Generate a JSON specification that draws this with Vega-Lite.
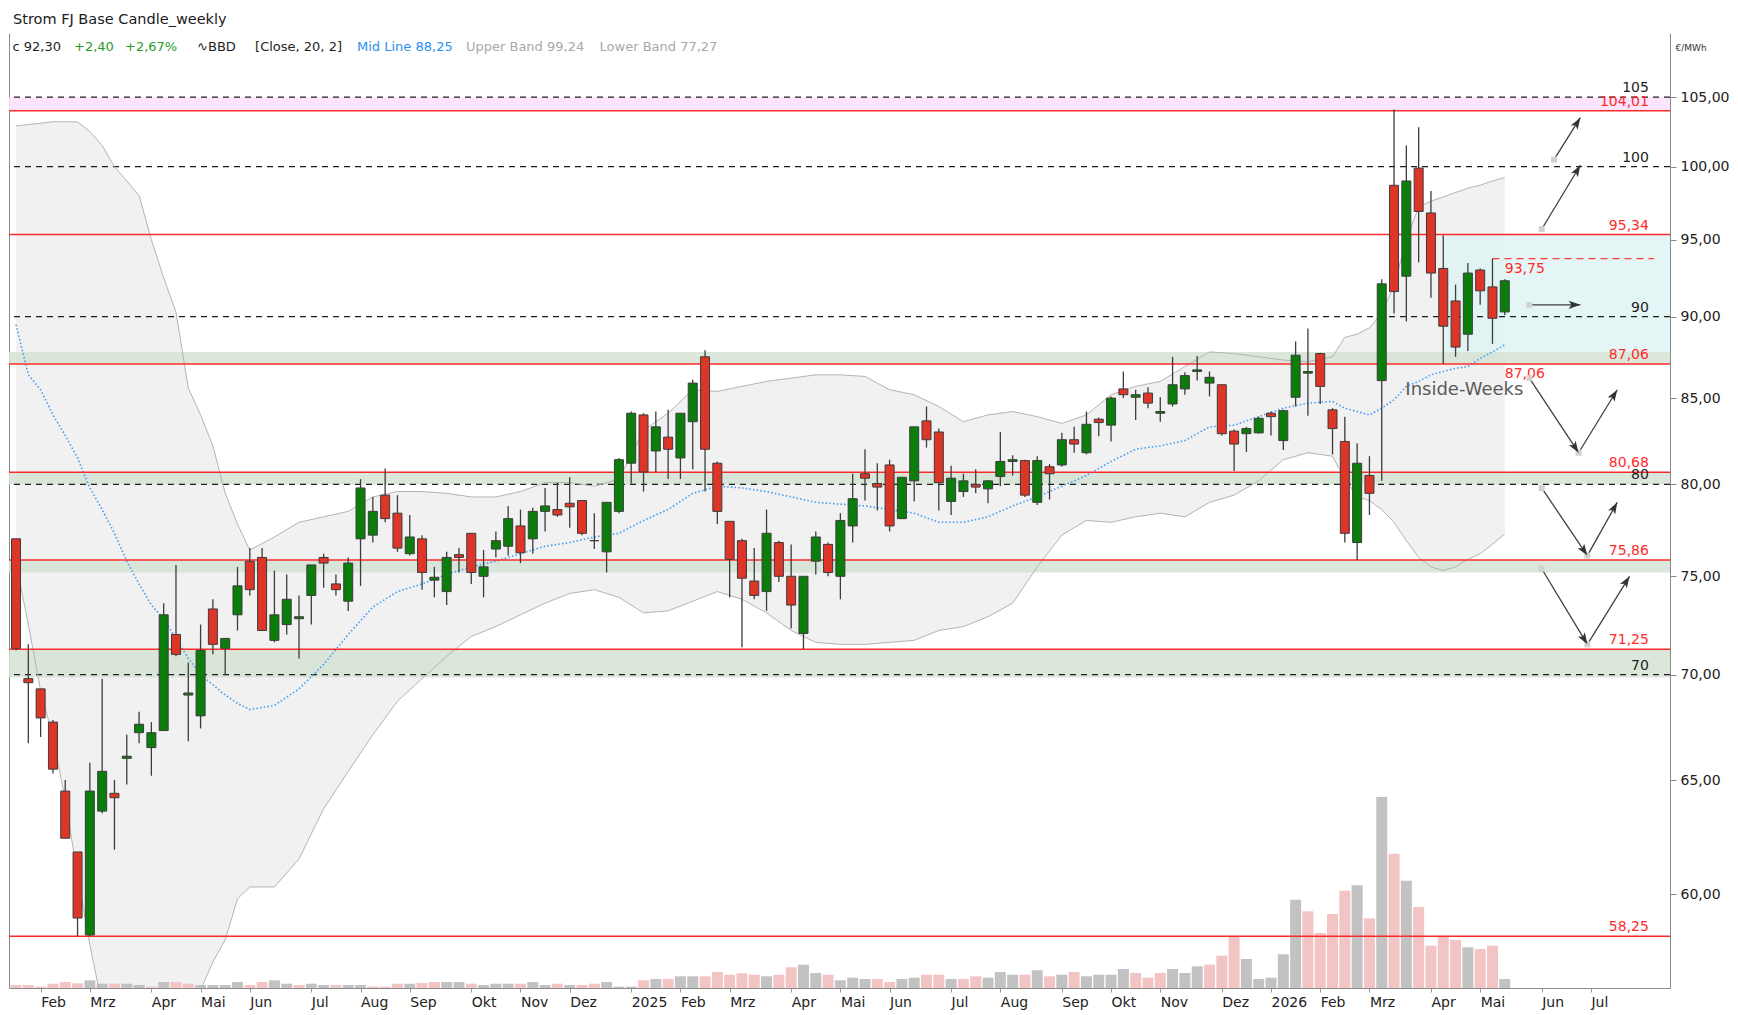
{
  "$schema": "https://vega.github.io/schema/vega-lite/v6.json",
  "width": 1661,
  "height": 955,
  "autosize": {"type": "none"},
  "padding": {"left": 9, "top": 33, "right": 68, "bottom": 27},
  "background": "#ffffff",
  "title": {"text": "Strom FJ Base Candle_weekly", "anchor": "start", "frame": "group", "offset": 6, "fontSize": 14.5, "fontWeight": "normal", "color": "#1a1a1a", "dx": 4},
  "config": {
    "font": "DejaVu Sans",
    "view": {"stroke": null},
    "locale": {
      "number": {"decimal": ",", "thousands": ".", "grouping": [3], "currency": ["", " €"]},
      "time": {
        "dateTime": "%A, der %e. %B %Y, %X", "date": "%d.%m.%Y", "time": "%H:%M:%S", "periods": ["AM", "PM"],
        "days": ["Sonntag", "Montag", "Dienstag", "Mittwoch", "Donnerstag", "Freitag", "Samstag"],
        "shortDays": ["So", "Mo", "Di", "Mi", "Do", "Fr", "Sa"],
        "months": ["Januar", "Februar", "März", "April", "Mai", "Juni", "Juli", "August", "September", "Oktober", "November", "Dezember"],
        "shortMonths": ["Jan", "Feb", "Mrz", "Apr", "Mai", "Jun", "Jul", "Aug", "Sep", "Okt", "Nov", "Dez"]
      }
    }
  },
  "datasets": {
    "candles": [
      {"d":"2024-01-15","o":77.0,"h":77.0,"l":71.2,"c":71.3,"v":30,"vd":"down"},
      {"d":"2024-01-22","o":69.8,"h":71.5,"l":66.7,"c":69.6,"v":30,"vd":"down"},
      {"d":"2024-01-29","o":69.3,"h":69.3,"l":67.0,"c":67.9,"v":13,"vd":"down"},
      {"d":"2024-02-05","o":67.7,"h":67.8,"l":65.3,"c":65.5,"v":43,"vd":"down"},
      {"d":"2024-02-12","o":64.5,"h":65.0,"l":62.4,"c":62.4,"v":60,"vd":"down"},
      {"d":"2024-02-19","o":61.8,"h":61.8,"l":58.25,"c":59.0,"v":47,"vd":"down"},
      {"d":"2024-02-26","o":58.3,"h":65.8,"l":58.25,"c":64.5,"v":77,"vd":"up"},
      {"d":"2024-03-04","o":63.6,"h":69.8,"l":63.5,"c":65.4,"v":43,"vd":"up"},
      {"d":"2024-03-11","o":64.4,"h":65.0,"l":61.9,"c":64.2,"v":43,"vd":"down"},
      {"d":"2024-03-18","o":66.0,"h":67.1,"l":64.8,"c":66.1,"v":43,"vd":"up"},
      {"d":"2024-03-25","o":67.2,"h":68.2,"l":66.7,"c":67.6,"v":30,"vd":"up"},
      {"d":"2024-04-01","o":66.5,"h":67.7,"l":65.2,"c":67.2,"v":13,"vd":"down"},
      {"d":"2024-04-08","o":67.3,"h":73.6,"l":67.3,"c":73.0,"v":60,"vd":"up"},
      {"d":"2024-04-15","o":72.0,"h":75.6,"l":70.9,"c":71.0,"v":60,"vd":"down"},
      {"d":"2024-04-22","o":69.0,"h":70.6,"l":66.8,"c":69.1,"v":43,"vd":"down"},
      {"d":"2024-04-29","o":68.0,"h":72.5,"l":67.4,"c":71.2,"v":30,"vd":"up"},
      {"d":"2024-05-06","o":73.3,"h":73.8,"l":71.0,"c":71.5,"v":30,"vd":"up"},
      {"d":"2024-05-13","o":71.3,"h":71.8,"l":70.0,"c":71.8,"v":30,"vd":"up"},
      {"d":"2024-05-20","o":73.0,"h":75.5,"l":72.2,"c":74.5,"v":60,"vd":"up"},
      {"d":"2024-05-27","o":75.8,"h":76.5,"l":74.0,"c":74.3,"v":30,"vd":"down"},
      {"d":"2024-06-03","o":76.0,"h":76.5,"l":72.2,"c":72.2,"v":60,"vd":"down"},
      {"d":"2024-06-10","o":71.7,"h":75.3,"l":71.6,"c":73.0,"v":77,"vd":"up"},
      {"d":"2024-06-17","o":72.5,"h":75.1,"l":72.0,"c":73.8,"v":43,"vd":"up"},
      {"d":"2024-06-24","o":72.8,"h":74.0,"l":70.8,"c":72.9,"v":30,"vd":"down"},
      {"d":"2024-07-01","o":74.0,"h":75.6,"l":72.5,"c":75.6,"v":43,"vd":"up"},
      {"d":"2024-07-08","o":76.0,"h":76.2,"l":74.4,"c":75.7,"v":30,"vd":"up"},
      {"d":"2024-07-15","o":74.6,"h":75.1,"l":74.0,"c":74.3,"v":30,"vd":"down"},
      {"d":"2024-07-22","o":73.7,"h":76.0,"l":73.2,"c":75.7,"v":30,"vd":"up"},
      {"d":"2024-07-29","o":77.0,"h":80.3,"l":74.5,"c":79.8,"v":30,"vd":"up"},
      {"d":"2024-08-05","o":77.2,"h":79.3,"l":76.8,"c":78.5,"v":13,"vd":"down"},
      {"d":"2024-08-12","o":79.4,"h":80.9,"l":77.9,"c":78.1,"v":13,"vd":"down"},
      {"d":"2024-08-19","o":78.4,"h":79.4,"l":76.3,"c":76.5,"v":43,"vd":"down"},
      {"d":"2024-08-26","o":76.2,"h":78.3,"l":76.1,"c":77.1,"v":43,"vd":"up"},
      {"d":"2024-09-02","o":77.0,"h":77.2,"l":74.3,"c":75.2,"v":50,"vd":"down"},
      {"d":"2024-09-09","o":74.8,"h":75.5,"l":73.9,"c":74.95,"v":60,"vd":"down"},
      {"d":"2024-09-16","o":74.2,"h":76.3,"l":73.5,"c":76.0,"v":60,"vd":"up"},
      {"d":"2024-09-23","o":76.15,"h":76.5,"l":75.2,"c":76.0,"v":60,"vd":"up"},
      {"d":"2024-09-30","o":77.3,"h":77.3,"l":74.6,"c":75.2,"v":43,"vd":"down"},
      {"d":"2024-10-07","o":75.0,"h":76.4,"l":73.9,"c":75.5,"v":30,"vd":"up"},
      {"d":"2024-10-14","o":76.45,"h":77.4,"l":76.0,"c":76.9,"v":43,"vd":"up"},
      {"d":"2024-10-21","o":76.6,"h":78.8,"l":76.1,"c":78.1,"v":43,"vd":"up"},
      {"d":"2024-10-28","o":77.7,"h":78.6,"l":75.7,"c":76.25,"v":43,"vd":"down"},
      {"d":"2024-11-04","o":77.0,"h":78.7,"l":76.2,"c":78.5,"v":60,"vd":"up"},
      {"d":"2024-11-11","o":78.5,"h":79.8,"l":77.4,"c":78.8,"v":30,"vd":"up"},
      {"d":"2024-11-18","o":78.6,"h":80.1,"l":78.2,"c":78.3,"v":43,"vd":"down"},
      {"d":"2024-11-25","o":78.95,"h":80.4,"l":77.6,"c":78.75,"v":30,"vd":"up"},
      {"d":"2024-12-02","o":79.1,"h":79.1,"l":77.2,"c":77.3,"v":30,"vd":"down"},
      {"d":"2024-12-09","o":76.9,"h":78.4,"l":76.45,"c":76.9,"v":43,"vd":"down"},
      {"d":"2024-12-16","o":76.3,"h":79.0,"l":75.2,"c":79.0,"v":60,"vd":"up"},
      {"d":"2024-12-23","o":78.5,"h":81.5,"l":78.4,"c":81.4,"v":13,"vd":"up"},
      {"d":"2024-12-30","o":81.2,"h":84.2,"l":80.05,"c":84.1,"v":13,"vd":"up"},
      {"d":"2025-01-06","o":84.0,"h":84.1,"l":79.6,"c":80.7,"v":77,"vd":"down"},
      {"d":"2025-01-13","o":81.9,"h":84.2,"l":80.7,"c":83.3,"v":90,"vd":"up"},
      {"d":"2025-01-20","o":82.7,"h":84.3,"l":80.3,"c":82.0,"v":90,"vd":"down"},
      {"d":"2025-01-27","o":81.5,"h":84.1,"l":80.3,"c":84.1,"v":117,"vd":"up"},
      {"d":"2025-02-03","o":83.6,"h":86.1,"l":80.85,"c":85.9,"v":117,"vd":"up"},
      {"d":"2025-02-10","o":87.5,"h":87.9,"l":79.6,"c":82.0,"v":117,"vd":"down"},
      {"d":"2025-02-17","o":81.2,"h":81.3,"l":77.8,"c":78.5,"v":160,"vd":"down"},
      {"d":"2025-02-24","o":77.95,"h":77.95,"l":73.9,"c":75.9,"v":133,"vd":"down"},
      {"d":"2025-03-03","o":76.9,"h":77.0,"l":71.35,"c":74.9,"v":147,"vd":"down"},
      {"d":"2025-03-10","o":74.75,"h":76.5,"l":73.8,"c":74.0,"v":133,"vd":"down"},
      {"d":"2025-03-17","o":74.2,"h":78.6,"l":73.2,"c":77.3,"v":117,"vd":"up"},
      {"d":"2025-03-24","o":76.8,"h":76.9,"l":74.7,"c":75.0,"v":133,"vd":"down"},
      {"d":"2025-03-31","o":75.0,"h":76.7,"l":72.3,"c":73.5,"v":207,"vd":"down"},
      {"d":"2025-04-07","o":72.05,"h":75.0,"l":71.25,"c":75.0,"v":233,"vd":"up"},
      {"d":"2025-04-14","o":75.8,"h":77.4,"l":75.1,"c":77.1,"v":150,"vd":"up"},
      {"d":"2025-04-21","o":76.7,"h":76.8,"l":75.0,"c":75.2,"v":133,"vd":"down"},
      {"d":"2025-04-28","o":75.0,"h":78.4,"l":73.8,"c":78.0,"v":77,"vd":"up"},
      {"d":"2025-05-05","o":77.7,"h":80.6,"l":76.8,"c":79.2,"v":103,"vd":"up"},
      {"d":"2025-05-12","o":80.6,"h":82.0,"l":79.1,"c":80.35,"v":90,"vd":"up"},
      {"d":"2025-05-19","o":80.05,"h":81.2,"l":78.55,"c":79.85,"v":90,"vd":"down"},
      {"d":"2025-05-26","o":81.1,"h":81.4,"l":77.4,"c":77.7,"v":60,"vd":"down"},
      {"d":"2025-06-02","o":78.1,"h":80.4,"l":78.1,"c":80.4,"v":90,"vd":"up"},
      {"d":"2025-06-09","o":80.2,"h":83.3,"l":79.05,"c":83.3,"v":103,"vd":"up"},
      {"d":"2025-06-16","o":83.65,"h":84.5,"l":82.1,"c":82.55,"v":133,"vd":"down"},
      {"d":"2025-06-23","o":83.0,"h":83.2,"l":78.55,"c":80.1,"v":133,"vd":"down"},
      {"d":"2025-06-30","o":79.05,"h":81.05,"l":78.3,"c":80.35,"v":90,"vd":"up"},
      {"d":"2025-07-07","o":79.6,"h":80.6,"l":79.3,"c":80.2,"v":90,"vd":"down"},
      {"d":"2025-07-14","o":80.0,"h":80.85,"l":79.5,"c":79.85,"v":117,"vd":"down"},
      {"d":"2025-07-21","o":79.75,"h":80.25,"l":78.95,"c":80.2,"v":103,"vd":"up"},
      {"d":"2025-07-28","o":80.45,"h":83.0,"l":79.9,"c":81.3,"v":160,"vd":"up"},
      {"d":"2025-08-04","o":81.3,"h":81.65,"l":80.5,"c":81.4,"v":133,"vd":"up"},
      {"d":"2025-08-11","o":81.35,"h":81.4,"l":79.3,"c":79.4,"v":133,"vd":"down"},
      {"d":"2025-08-18","o":79.0,"h":81.6,"l":78.85,"c":81.35,"v":177,"vd":"up"},
      {"d":"2025-08-25","o":81.0,"h":81.15,"l":79.15,"c":80.6,"v":117,"vd":"down"},
      {"d":"2025-09-01","o":81.1,"h":82.95,"l":81.0,"c":82.55,"v":133,"vd":"up"},
      {"d":"2025-09-08","o":82.55,"h":83.3,"l":81.8,"c":82.3,"v":160,"vd":"down"},
      {"d":"2025-09-15","o":81.8,"h":84.2,"l":81.7,"c":83.45,"v":117,"vd":"up"},
      {"d":"2025-09-22","o":83.75,"h":83.85,"l":82.75,"c":83.55,"v":133,"vd":"up"},
      {"d":"2025-09-29","o":83.4,"h":85.1,"l":82.45,"c":85.0,"v":133,"vd":"up"},
      {"d":"2025-10-06","o":85.55,"h":86.6,"l":85.0,"c":85.2,"v":190,"vd":"up"},
      {"d":"2025-10-13","o":85.05,"h":85.5,"l":83.7,"c":85.2,"v":150,"vd":"down"},
      {"d":"2025-10-20","o":85.3,"h":85.65,"l":84.4,"c":84.7,"v":103,"vd":"down"},
      {"d":"2025-10-27","o":84.1,"h":85.05,"l":83.6,"c":84.2,"v":150,"vd":"down"},
      {"d":"2025-11-03","o":84.65,"h":87.5,"l":84.5,"c":85.8,"v":190,"vd":"up"},
      {"d":"2025-11-10","o":85.55,"h":86.55,"l":85.2,"c":86.35,"v":150,"vd":"up"},
      {"d":"2025-11-17","o":86.6,"h":87.55,"l":86.05,"c":86.7,"v":217,"vd":"up"},
      {"d":"2025-11-24","o":85.9,"h":86.6,"l":85.1,"c":86.25,"v":233,"vd":"down"},
      {"d":"2025-12-01","o":85.8,"h":85.8,"l":82.8,"c":82.9,"v":323,"vd":"down"},
      {"d":"2025-12-08","o":83.05,"h":83.15,"l":80.75,"c":82.3,"v":517,"vd":"down"},
      {"d":"2025-12-15","o":82.9,"h":83.3,"l":81.85,"c":83.2,"v":290,"vd":"up"},
      {"d":"2025-12-22","o":82.95,"h":83.9,"l":82.9,"c":83.8,"v":90,"vd":"up"},
      {"d":"2025-12-29","o":84.1,"h":84.2,"l":82.8,"c":83.9,"v":103,"vd":"up"},
      {"d":"2026-01-05","o":82.5,"h":84.3,"l":81.95,"c":84.25,"v":337,"vd":"up"},
      {"d":"2026-01-12","o":85.05,"h":88.45,"l":84.5,"c":87.6,"v":883,"vd":"up"},
      {"d":"2026-01-19","o":86.5,"h":89.25,"l":83.95,"c":86.6,"v":767,"vd":"down"},
      {"d":"2026-01-26","o":87.7,"h":87.75,"l":84.65,"c":85.7,"v":550,"vd":"down"},
      {"d":"2026-02-02","o":84.3,"h":84.4,"l":81.7,"c":83.2,"v":740,"vd":"down"},
      {"d":"2026-02-09","o":82.45,"h":83.9,"l":76.8,"c":77.3,"v":973,"vd":"down"},
      {"d":"2026-02-16","o":76.8,"h":82.35,"l":75.85,"c":81.2,"v":1027,"vd":"up"},
      {"d":"2026-02-23","o":80.5,"h":81.6,"l":78.3,"c":79.5,"v":697,"vd":"down"},
      {"d":"2026-03-02","o":86.05,"h":92.4,"l":80.2,"c":92.1,"v":1910,"vd":"up"},
      {"d":"2026-03-09","o":98.7,"h":104.1,"l":90.2,"c":91.6,"v":1343,"vd":"down"},
      {"d":"2026-03-16","o":92.6,"h":101.5,"l":89.7,"c":99.0,"v":1073,"vd":"up"},
      {"d":"2026-03-23","o":99.9,"h":102.8,"l":93.5,"c":96.9,"v":810,"vd":"down"},
      {"d":"2026-03-30","o":96.8,"h":98.3,"l":91.2,"c":92.8,"v":423,"vd":"down"},
      {"d":"2026-04-06","o":93.1,"h":95.3,"l":87.06,"c":89.4,"v":517,"vd":"down"},
      {"d":"2026-04-13","o":91.0,"h":92.05,"l":87.5,"c":88.1,"v":480,"vd":"down"},
      {"d":"2026-04-20","o":88.9,"h":93.45,"l":87.85,"c":92.8,"v":407,"vd":"up"},
      {"d":"2026-04-27","o":93.0,"h":93.1,"l":90.75,"c":91.65,"v":390,"vd":"down"},
      {"d":"2026-05-04","o":91.9,"h":93.75,"l":88.3,"c":89.9,"v":423,"vd":"down"},
      {"d":"2026-05-11","o":90.3,"h":92.4,"l":90.1,"c":92.3,"v":90,"vd":"up"}
    ],
    "bands": [
      {"d":"2024-01-15","up":102.9,"mid":89.5,"lo":75.7},
      {"d":"2024-01-22","up":103.0,"mid":86.4,"lo":72.5},
      {"d":"2024-01-29","up":103.1,"mid":85.5,"lo":69.2},
      {"d":"2024-02-05","up":103.2,"mid":84.0,"lo":67.0},
      {"d":"2024-02-12","up":103.2,"mid":82.8,"lo":64.1},
      {"d":"2024-02-19","up":103.2,"mid":81.5,"lo":60.8},
      {"d":"2024-02-26","up":102.5,"mid":79.8,"lo":57.9},
      {"d":"2024-03-04","up":101.5,"mid":78.6,"lo":55.5},
      {"d":"2024-03-11","up":100.0,"mid":77.3,"lo":54.8},
      {"d":"2024-03-18","up":99.0,"mid":75.8,"lo":54.0},
      {"d":"2024-03-25","up":98.0,"mid":74.6,"lo":53.8},
      {"d":"2024-04-01","up":95.0,"mid":73.5,"lo":53.6},
      {"d":"2024-04-08","up":92.5,"mid":72.8,"lo":53.5},
      {"d":"2024-04-15","up":90.3,"mid":71.8,"lo":53.8},
      {"d":"2024-04-22","up":85.6,"mid":70.8,"lo":54.5},
      {"d":"2024-04-29","up":84.0,"mid":70.0,"lo":56.1},
      {"d":"2024-05-06","up":82.2,"mid":69.5,"lo":57.2},
      {"d":"2024-05-13","up":79.5,"mid":69.0,"lo":58.1},
      {"d":"2024-05-20","up":77.8,"mid":68.6,"lo":59.8},
      {"d":"2024-05-27","up":76.4,"mid":68.3,"lo":60.3},
      {"d":"2024-06-10","up":77.1,"mid":68.5,"lo":60.3},
      {"d":"2024-06-24","up":77.9,"mid":69.3,"lo":61.5},
      {"d":"2024-07-08","up":78.2,"mid":70.5,"lo":63.7},
      {"d":"2024-07-22","up":78.5,"mid":72.0,"lo":65.4},
      {"d":"2024-08-05","up":79.3,"mid":73.4,"lo":67.1},
      {"d":"2024-08-19","up":79.6,"mid":74.2,"lo":68.7},
      {"d":"2024-09-02","up":79.6,"mid":74.6,"lo":69.8},
      {"d":"2024-09-16","up":79.5,"mid":75.1,"lo":70.9},
      {"d":"2024-09-30","up":79.3,"mid":75.5,"lo":71.9},
      {"d":"2024-10-14","up":79.3,"mid":75.8,"lo":72.4},
      {"d":"2024-10-28","up":79.6,"mid":76.2,"lo":73.0},
      {"d":"2024-11-11","up":80.1,"mid":76.6,"lo":73.6},
      {"d":"2024-11-25","up":80.1,"mid":76.8,"lo":74.1},
      {"d":"2024-12-09","up":79.9,"mid":77.1,"lo":74.3},
      {"d":"2024-12-23","up":80.3,"mid":77.3,"lo":73.9},
      {"d":"2025-01-06","up":83.1,"mid":78.0,"lo":73.1},
      {"d":"2025-01-20","up":84.1,"mid":78.6,"lo":73.2},
      {"d":"2025-02-03","up":85.5,"mid":79.5,"lo":73.7},
      {"d":"2025-02-17","up":85.4,"mid":79.9,"lo":74.2},
      {"d":"2025-03-03","up":85.7,"mid":79.8,"lo":73.8},
      {"d":"2025-03-17","up":86.0,"mid":79.6,"lo":73.1},
      {"d":"2025-03-31","up":86.2,"mid":79.3,"lo":72.2},
      {"d":"2025-04-14","up":86.4,"mid":79.0,"lo":71.6},
      {"d":"2025-04-28","up":86.4,"mid":78.9,"lo":71.5},
      {"d":"2025-05-12","up":86.3,"mid":78.8,"lo":71.5},
      {"d":"2025-05-26","up":85.5,"mid":78.6,"lo":71.6},
      {"d":"2025-06-09","up":85.2,"mid":78.4,"lo":71.7},
      {"d":"2025-06-23","up":84.5,"mid":77.9,"lo":72.2},
      {"d":"2025-07-07","up":83.6,"mid":77.9,"lo":72.4},
      {"d":"2025-07-21","up":84.0,"mid":78.2,"lo":72.9},
      {"d":"2025-08-04","up":84.2,"mid":78.8,"lo":73.6},
      {"d":"2025-08-18","up":83.9,"mid":79.3,"lo":75.5},
      {"d":"2025-09-01","up":83.5,"mid":79.9,"lo":77.2},
      {"d":"2025-09-15","up":84.0,"mid":80.5,"lo":78.0},
      {"d":"2025-09-29","up":85.2,"mid":81.3,"lo":77.9},
      {"d":"2025-10-13","up":85.7,"mid":82.0,"lo":78.2},
      {"d":"2025-10-27","up":86.0,"mid":82.2,"lo":78.4},
      {"d":"2025-11-10","up":86.9,"mid":82.5,"lo":78.2},
      {"d":"2025-11-24","up":87.8,"mid":83.3,"lo":79.0},
      {"d":"2025-12-08","up":87.7,"mid":83.4,"lo":79.4},
      {"d":"2025-12-22","up":87.5,"mid":83.9,"lo":80.2},
      {"d":"2026-01-05","up":87.3,"mid":84.4,"lo":81.4},
      {"d":"2026-01-19","up":87.2,"mid":84.7,"lo":81.8},
      {"d":"2026-02-02","up":87.5,"mid":84.8,"lo":81.6},
      {"d":"2026-02-09","up":88.7,"mid":84.4,"lo":80.3},
      {"d":"2026-02-16","up":88.9,"mid":84.2,"lo":79.3},
      {"d":"2026-02-23","up":89.3,"mid":84.0,"lo":79.1},
      {"d":"2026-03-02","up":90.2,"mid":84.4,"lo":78.6},
      {"d":"2026-03-09","up":92.0,"mid":84.9,"lo":77.9},
      {"d":"2026-03-16","up":95.0,"mid":85.7,"lo":76.9},
      {"d":"2026-03-23","up":97.2,"mid":86.0,"lo":76.0},
      {"d":"2026-03-30","up":97.6,"mid":86.4,"lo":75.5},
      {"d":"2026-04-06","up":97.9,"mid":86.6,"lo":75.3},
      {"d":"2026-04-13","up":98.2,"mid":86.8,"lo":75.5},
      {"d":"2026-04-20","up":98.5,"mid":86.9,"lo":75.9},
      {"d":"2026-04-27","up":98.7,"mid":87.4,"lo":76.2},
      {"d":"2026-05-04","up":99.0,"mid":87.8,"lo":76.7},
      {"d":"2026-05-11","up":99.24,"mid":88.25,"lo":77.27}
    ],
    "zones": [
      {"lo":104.01,"hi":105,"z":"pink"},
      {"lo":87.06,"hi":87.8,"z":"green"},
      {"lo":80.0,"hi":80.68,"z":"green"},
      {"lo":75.2,"hi":75.86,"z":"green"},
      {"lo":69.85,"hi":71.25,"z":"green"}
    ],
    "round": [{"level":105},{"level":100},{"level":90},{"level":80},{"level":70}],
    "key": [{"level":104.01},{"level":95.34},{"level":87.06},{"level":80.68},{"level":75.86},{"level":71.25},{"level":58.25}],
    "arrows": [
      {"x1":"2026-06-08","y1":100.5,"x2":"2026-06-23","y2":103.5,"hd":32},
      {"x1":"2026-06-01","y1":95.7,"x2":"2026-06-23","y2":100.1,"hd":31},
      {"x1":"2026-05-25","y1":90.75,"x2":"2026-06-23","y2":90.75,"hd":90},
      {"x1":"2026-05-25","y1":86.2,"x2":"2026-06-22","y2":81.8,"hd":147},
      {"x1":"2026-06-22","y1":81.8,"x2":"2026-07-14","y2":85.5,"hd":32},
      {"x1":"2026-06-01","y1":79.8,"x2":"2026-06-27","y2":76.1,"hd":146},
      {"x1":"2026-06-27","y1":76.1,"x2":"2026-07-14","y2":79.0,"hd":29},
      {"x1":"2026-06-01","y1":75.4,"x2":"2026-06-27","y2":71.5,"hd":149},
      {"x1":"2026-06-27","y1":71.5,"x2":"2026-07-21","y2":75.0,"hd":32}
    ],
    "header": [
      {"t":"c 92,30","d":"2024-01-13","r":"price"},
      {"t":"+2,40","d":"2024-02-17","r":"chg"},
      {"t":"+2,67%","d":"2024-03-17","r":"chg"},
      {"t":"∿BBD","d":"2024-04-27","r":"price"},
      {"t":"[Close, 20, 2]","d":"2024-05-30","r":"price"},
      {"t":"Mid Line 88,25","d":"2024-07-27","r":"mid"},
      {"t":"Upper Band 99,24","d":"2024-09-27","r":"band"},
      {"t":"Lower Band 77,27","d":"2024-12-12","r":"band"}
    ]
  },
  "layer": [
    {
      "layer": [
        {
          "data": {"name": "bands"},
          "mark": {"type": "area", "color": "#f1f1f1", "clip": true},
          "encoding": {
            "x": {"field": "d", "type": "temporal", "title": null},
            "y": {"field": "lo", "type": "quantitative", "scale": {"type": "log", "domain": [56.17, 109.84], "nice": false, "zero": false, "padding": 0}, "axis": null},
            "y2": {"field": "up"}
          }
        },
        {
          "data": {"values": [{"lo": 87.8, "hi": 95.34}]},
          "mark": {"type": "rect", "color": "#dff3f3", "opacity": 0.85},
          "encoding": {
            "x": {"datum": {"year": 2026, "month": 4, "date": 6, "utc": true}, "type": "temporal", "title": null},
            "x2": {"datum": {"year": 2026, "month": 8, "date": 13, "utc": true}},
            "y": {"field": "lo", "type": "quantitative", "axis": null},
            "y2": {"field": "hi"}
          }
        },
        {
          "data": {"name": "zones"},
          "mark": {"type": "rect", "opacity": 0.85},
          "encoding": {
            "x": {"datum": {"year": 2024, "month": 1, "date": 11, "utc": true}, "type": "temporal", "title": null},
            "x2": {"datum": {"year": 2026, "month": 8, "date": 13, "utc": true}},
            "y": {"field": "lo", "type": "quantitative", "axis": null},
            "y2": {"field": "hi"},
            "color": {"condition": {"test": "datum.z == 'pink'", "value": "#fcdffb"}, "value": "#d3e3d3"}
          }
        }
      ]
    },
    {
      "data": {"name": "candles"},
      "mark": {"type": "bar", "size": 11},
      "encoding": {
        "x": {
          "field": "d", "type": "temporal", "title": null,
          "scale": {"type": "utc", "padding": 0, "domain": [{"year": 2024, "month": 1, "date": 11, "utc": true}, {"year": 2026, "month": 8, "date": 13, "utc": true}]},
          "axis": {
            "title": null, "grid": false,
            "values": [
              {"year":2024,"month":1,"date":29,"utc":true},{"year":2024,"month":2,"date":26,"utc":true},{"year":2024,"month":4,"date":1,"utc":true},
              {"year":2024,"month":4,"date":29,"utc":true},{"year":2024,"month":5,"date":27,"utc":true},{"year":2024,"month":7,"date":1,"utc":true},
              {"year":2024,"month":7,"date":29,"utc":true},{"year":2024,"month":8,"date":26,"utc":true},{"year":2024,"month":9,"date":30,"utc":true},
              {"year":2024,"month":10,"date":28,"utc":true},{"year":2024,"month":11,"date":25,"utc":true},{"year":2024,"month":12,"date":30,"utc":true},
              {"year":2025,"month":1,"date":27,"utc":true},{"year":2025,"month":2,"date":24,"utc":true},{"year":2025,"month":3,"date":31,"utc":true},
              {"year":2025,"month":4,"date":28,"utc":true},{"year":2025,"month":5,"date":26,"utc":true},{"year":2025,"month":6,"date":30,"utc":true},
              {"year":2025,"month":7,"date":28,"utc":true},{"year":2025,"month":9,"date":1,"utc":true},{"year":2025,"month":9,"date":29,"utc":true},
              {"year":2025,"month":10,"date":27,"utc":true},{"year":2025,"month":12,"date":1,"utc":true},{"year":2025,"month":12,"date":29,"utc":true},
              {"year":2026,"month":1,"date":26,"utc":true},{"year":2026,"month":2,"date":23,"utc":true},{"year":2026,"month":3,"date":30,"utc":true},
              {"year":2026,"month":4,"date":27,"utc":true},{"year":2026,"month":6,"date":1,"utc":true},{"year":2026,"month":6,"date":29,"utc":true}
            ],
            "labelExpr": "utcmonth(datum.value + 518400000) == 0 ? utcFormat(datum.value + 518400000, '%Y') : utcFormat(datum.value + 518400000, '%b')",
            "labelAlign": "left", "labelFontSize": 14, "labelColor": "#222222", "labelPadding": 3,
            "labelOverlap": false, "labelFlush": false,
            "tickSize": 4, "tickColor": "#999999", "domainColor": "#8a8a8a"
          }
        },
        "y": {"field": "v", "type": "quantitative", "scale": {"domain": [0, 9550], "padding": 0, "nice": false},
              "axis": {"orient": "left", "labels": false, "ticks": false, "title": null, "grid": false, "domainColor": "#8a8a8a"}},
        "color": {"condition": {"test": "datum.vd == 'up'", "value": "#c2c2c2"}, "value": "#f2c4c4"}
      }
    },
    {
      "layer": [
        {
          "data": {"name": "round"},
          "mark": {"type": "rule", "color": "#1e1e1e", "strokeDash": [6, 5], "strokeWidth": 1.2},
          "encoding": {
            "y": {
              "field": "level", "type": "quantitative",
              "scale": {"type": "log", "domain": [56.17, 109.84], "nice": false, "zero": false, "padding": 0},
              "axis": {
                "orient": "right", "values": [60, 65, 70, 75, 80, 85, 90, 95, 100, 105], "format": ".2f",
                "labelFontSize": 14, "labelColor": "#222222", "labelPadding": 4,
                "tickSize": 6, "tickColor": "#888888", "domainColor": "#8a8a8a", "grid": false,
                "title": "€/MWh", "titleAngle": 0, "titleAlign": "left", "titleBaseline": "middle",
                "titleX": 5, "titleY": 14, "titleFontSize": 9, "titleFontWeight": "normal", "titleColor": "#333333"
              }
            }
          }
        },
        {
          "data": {"name": "bands"},
          "mark": {"type": "line", "color": "#b4b4b4", "strokeWidth": 1, "clip": true},
          "encoding": {
            "x": {"field": "d", "type": "temporal", "title": null},
            "y": {"field": "up", "type": "quantitative"}
          }
        },
        {
          "data": {"name": "bands"},
          "mark": {"type": "line", "color": "#b4b4b4", "strokeWidth": 1, "clip": true},
          "encoding": {
            "x": {"field": "d", "type": "temporal", "title": null},
            "y": {"field": "lo", "type": "quantitative"}
          }
        },
        {
          "data": {"name": "bands"},
          "mark": {"type": "line", "color": "#3f9bf2", "strokeWidth": 1.6, "strokeDash": [1.5, 2.2], "clip": true},
          "encoding": {
            "x": {"field": "d", "type": "temporal", "title": null},
            "y": {"field": "mid", "type": "quantitative"}
          }
        },
        {
          "data": {"name": "key"},
          "mark": {"type": "rule", "color": "#ff2b2b", "strokeWidth": 1.5},
          "encoding": {
            "y": {"field": "level", "type": "quantitative"}
          }
        },
        {
          "data": {"values": [{"lvl": 93.75, "from": "2026-05-04", "to": "2026-08-04"}]},
          "mark": {"type": "rule", "color": "#ff3b3b", "strokeWidth": 1.3, "strokeDash": [7, 5]},
          "encoding": {
            "x": {"field": "from", "type": "temporal", "title": null},
            "x2": {"field": "to"},
            "y": {"field": "lvl", "type": "quantitative"}
          }
        },
        {
          "data": {"name": "candles"},
          "mark": {"type": "rule", "color": "#3c3c3c", "strokeWidth": 1.3},
          "encoding": {
            "x": {"field": "d", "type": "temporal", "title": null},
            "y": {"field": "l", "type": "quantitative"},
            "y2": {"field": "h"}
          }
        },
        {
          "data": {"name": "candles"},
          "mark": {"type": "bar", "size": 9, "stroke": "#3c3c3c", "strokeWidth": 1},
          "encoding": {
            "x": {"field": "d", "type": "temporal", "title": null},
            "y": {"field": "o", "type": "quantitative"},
            "y2": {"field": "c"},
            "color": {"condition": {"test": "datum.c >= datum.o", "value": "#0b7d0b"}, "value": "#dd3527"}
          }
        },
        {
          "data": {"name": "round"},
          "mark": {"type": "text", "align": "right", "baseline": "bottom", "dy": -2, "fontSize": 14, "color": "#1e1e1e"},
          "encoding": {
            "x": {"datum": {"year": 2026, "month": 8, "date": 1, "utc": true}, "type": "temporal", "title": null},
            "y": {"field": "level", "type": "quantitative"},
            "text": {"field": "level", "type": "quantitative", "format": ".0f"}
          }
        },
        {
          "data": {"name": "key"},
          "mark": {"type": "text", "align": "right", "baseline": "bottom", "dy": -2, "fontSize": 14, "color": "#ff2b2b"},
          "encoding": {
            "x": {"datum": {"year": 2026, "month": 8, "date": 1, "utc": true}, "type": "temporal", "title": null},
            "y": {"field": "level", "type": "quantitative"},
            "text": {"field": "level", "type": "quantitative", "format": ".2f"}
          }
        },
        {
          "data": {"values": [{"lvl": 93.75}, {"lvl": 87.06}]},
          "mark": {"type": "text", "align": "left", "baseline": "top", "dy": 3, "fontSize": 14, "color": "#ff2b2b"},
          "encoding": {
            "x": {"datum": {"year": 2026, "month": 5, "date": 11, "utc": true}, "type": "temporal", "title": null},
            "y": {"field": "lvl", "type": "quantitative"},
            "text": {"field": "lvl", "type": "quantitative", "format": ".2f"}
          }
        },
        {
          "data": {"values": [{"t": "Inside-Weeks", "p": 85.5}]},
          "mark": {"type": "text", "align": "center", "baseline": "middle", "fontSize": 18, "color": "#5a5a5a"},
          "encoding": {
            "x": {"datum": {"year": 2026, "month": 4, "date": 18, "utc": true}, "type": "temporal", "title": null},
            "y": {"field": "p", "type": "quantitative"},
            "text": {"field": "t"}
          }
        },
        {
          "data": {"name": "arrows"},
          "mark": {"type": "rule", "color": "#404040", "strokeWidth": 1.3},
          "encoding": {
            "x": {"field": "x1", "type": "temporal", "title": null},
            "x2": {"field": "x2"},
            "y": {"field": "y1", "type": "quantitative"},
            "y2": {"field": "y2"}
          }
        },
        {
          "data": {"name": "arrows"},
          "mark": {"type": "square", "color": "#d2d2d2", "size": 36, "opacity": 1, "filled": true},
          "encoding": {
            "x": {"field": "x1", "type": "temporal", "title": null},
            "y": {"field": "y1", "type": "quantitative"}
          }
        },
        {
          "data": {"name": "arrows"},
          "mark": {"type": "point", "shape": "M0,0L-0.5,1.45L0,1.1L0.5,1.45Z", "filled": true, "color": "#333333", "size": 260, "opacity": 1},
          "encoding": {
            "x": {"field": "x2", "type": "temporal", "title": null},
            "y": {"field": "y2", "type": "quantitative"},
            "angle": {"field": "hd", "type": "quantitative", "scale": null}
          }
        },
        {
          "data": {"name": "header"},
          "mark": {"type": "text", "align": "left", "baseline": "middle", "fontSize": 13},
          "encoding": {
            "x": {"field": "d", "type": "temporal", "title": null},
            "y": {"datum": 108.8, "type": "quantitative"},
            "text": {"field": "t"},
            "color": {
              "condition": [
                {"test": "datum.r == 'chg'", "value": "#1f9e2a"},
                {"test": "datum.r == 'mid'", "value": "#2b8ff0"},
                {"test": "datum.r == 'band'", "value": "#a9a9a9"}
              ],
              "value": "#1e1e1e"
            }
          }
        }
      ]
    }
  ],
  "resolve": {"scale": {"y": "independent"}}
}
